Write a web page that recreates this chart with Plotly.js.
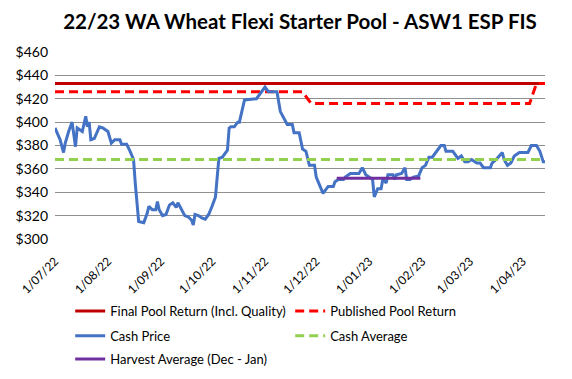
<!DOCTYPE html>
<html>
<head>
<meta charset="utf-8">
<script src="https://cdn.plot.ly/plotly-3.0.1.min.js"></script>
<style>
html,body{margin:0;padding:0;background:#fff;}
#chart{width:572px;height:379px;outline:1px solid #8c8c8c;outline-offset:-1px;}
</style>
</head>
<body>
<div id="chart"></div>
<script>
// Cash price series (dates and $/t values)
const cashDates = [
"2022-07-01","2022-07-04","2022-07-06","2022-07-07","2022-07-09","2022-07-11","2022-07-13","2022-07-14","2022-07-17","2022-07-19",
"2022-07-20","2022-07-21","2022-07-22","2022-07-24","2022-07-27","2022-07-29","2022-08-01","2022-08-03","2022-08-05","2022-08-08",
"2022-08-09","2022-08-12","2022-08-14","2022-08-16","2022-08-17","2022-08-18","2022-08-19","2022-08-22","2022-08-24","2022-08-25",
"2022-08-27","2022-08-29","2022-08-30","2022-08-31","2022-09-02","2022-09-04","2022-09-06","2022-09-08","2022-09-10","2022-09-11",
"2022-09-13","2022-09-15","2022-09-17","2022-09-19","2022-09-20","2022-09-21","2022-09-23","2022-09-25","2022-09-27","2022-09-29",
"2022-10-01","2022-10-03","2022-10-04","2022-10-05","2022-10-07","2022-10-10","2022-10-11","2022-10-12","2022-10-14","2022-10-16",
"2022-10-17","2022-10-19","2022-10-20","2022-10-27","2022-10-29","2022-11-01","2022-11-03","2022-11-08","2022-11-10","2022-11-12",
"2022-11-14","2022-11-17","2022-11-18","2022-11-21","2022-11-23","2022-11-25","2022-11-27","2022-11-30","2022-12-01","2022-12-05",
"2022-12-08","2022-12-11","2022-12-12","2022-12-14","2022-12-17","2022-12-18","2022-12-21","2022-12-26","2022-12-28","2022-12-30",
"2022-12-31","2023-01-03","2023-01-04","2023-01-06","2023-01-08","2023-01-09","2023-01-11","2023-01-12","2023-01-15","2023-01-16",
"2023-01-17","2023-01-20","2023-01-22","2023-01-23","2023-01-25","2023-01-27","2023-01-30","2023-02-01","2023-02-03","2023-02-05",
"2023-02-07","2023-02-10","2023-02-12","2023-02-14","2023-02-15","2023-02-19","2023-02-22","2023-02-24","2023-02-26","2023-02-28",
"2023-03-02","2023-03-05","2023-03-07","2023-03-09","2023-03-13","2023-03-14","2023-03-17","2023-03-20","2023-03-21","2023-03-23",
"2023-03-25","2023-03-27","2023-03-30","2023-04-04","2023-04-06","2023-04-09","2023-04-11","2023-04-13","2023-04-14"
];
const cashPrice = [
395,385,374,382,392,400,379,395,392,405,
396,400,385,386,396,395,392,382,385,385,
381,381,375,368,348,328,315,314,322,328,
325,325,332,325,320,321,329,331,327,331,
325,320,319,316,312,321,320,318,317,321,
328,336,353,369,370,376,395,396,396,400,
400,413,419,420,424,430,426,426,409,403,
398,398,391,391,377,375,363,363,353,339,
345,345,349,351,351,353,356,356,361,355,
354,351,336,343,343,351,348,355,355,351,
355,356,361,351,351,353,354,361,363,370,
370,376,380,380,375,375,369,371,366,366,
368,365,365,361,361,365,369,374,368,363,
365,371,374,374,380,380,375,366,366
];

// Reference lines
const finalDates = ["2022-07-01","2023-04-14"];
const finalReturn = [433,433];

const publishedDates = ["2022-07-01","2022-11-23","2022-11-28","2023-04-05","2023-04-09","2023-04-14"];
const publishedReturn = [426,426,416,416,433,433];

const cashAvgDates = ["2022-07-01","2023-04-14"];
const cashAverage = [368,368];

const harvestDates = ["2022-12-13","2023-01-31"];
const harvestAverage = [352,352];

const tickDates = ["2022-07-01","2022-08-01","2022-09-01","2022-10-01","2022-11-01","2022-12-01",
                   "2023-01-01","2023-02-01","2023-03-01","2023-04-01"];
const tickLabels = ["1/07/22","1/08/22","1/09/22","1/10/22","1/11/22","1/12/22",
                    "1/01/23","1/02/23","1/03/23","1/04/23"];

const FONT = "Lato, 'Open Sans', sans-serif";

const traces = [
  {x: finalDates, y: finalReturn, name: "Final Pool Return (Incl. Quality)", mode: "lines",
   line: {color: "#C00000", width: 3}, legend: "legend"},
  {x: publishedDates, y: publishedReturn, name: "Published Pool Return", mode: "lines",
   line: {color: "#FF0000", width: 3, dash: "9px,5px"}, legend: "legend"},
  {x: cashDates, y: cashPrice, name: "Cash Price", mode: "lines",
   line: {color: "#4472C4", width: 3}, legend: "legend2"},
  {x: cashAvgDates, y: cashAverage, name: "Cash Average", mode: "lines",
   line: {color: "#92D050", width: 3, dash: "9px,5px"}, legend: "legend2"},
  {x: harvestDates, y: harvestAverage, name: "Harvest Average (Dec - Jan)", mode: "lines",
   line: {color: "#7030A0", width: 3}, legend: "legend3"}
];

function legendRow(yPaper) {
  return {orientation: "h", x: 0.031, xanchor: "left", y: yPaper, yanchor: "middle",
          entrywidth: 175, entrywidthmode: "pixels", traceorder: "normal",
          font: {family: FONT, size: 13, color: "#000"}, bgcolor: "rgba(0,0,0,0)"};
}

const layout = {
  width: 572, height: 379,
  margin: {l: 55, r: 27, t: 52, b: 140, autoexpand: false},
  paper_bgcolor: "#ffffff", plot_bgcolor: "#ffffff",
  font: {family: FONT, size: 13, color: "#000000"},
  title: {text: "<b>22/23 WA Wheat Flexi Starter Pool - ASW1 ESP FIS</b>",
          font: {family: FONT, size: 20.5, color: "#000000"},
          x: 0.5, xanchor: "center", xref: "paper", y: 0.942, yanchor: "middle", yref: "container"},
  xaxis: {type: "date", range: ["2022-07-01", "2023-04-14"],
          tickmode: "array", tickvals: tickDates, ticktext: tickLabels, tickangle: -45,
          showgrid: false, zeroline: false, showline: false, ticks: "", ticklabelstandoff: 12,
          tickfont: {family: FONT, size: 12, color: "#000"}},
  yaxis: {range: [300, 460], dtick: 20, tick0: 300, tickprefix: "$",
          showgrid: true, gridcolor: "#8f8f8f", gridwidth: 1, zeroline: false, showline: false,
          ticks: "", ticklabelstandoff: 6,
          tickfont: {family: FONT, size: 14, color: "#000"}},
  showlegend: true,
  legend: legendRow(-0.385),
  legend2: legendRow(-0.517),
  legend3: legendRow(-0.642)
};

Plotly.newPlot("chart", traces, layout, {displayModeBar: false, staticPlot: true});
</script>
</body>
</html>
